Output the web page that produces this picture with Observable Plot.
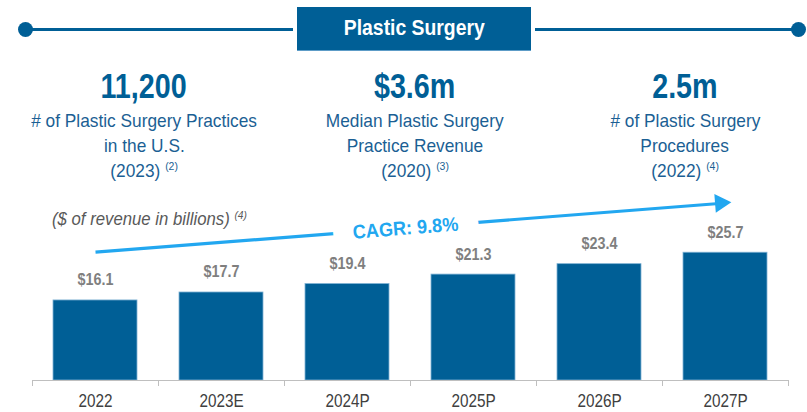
<!DOCTYPE html>
<html>
<head>
<meta charset="utf-8">
<script src="https://cdn.jsdelivr.net/npm/d3@7"></script>
<script src="https://cdn.jsdelivr.net/npm/@observablehq/plot@0.6"></script>
<style>
  html, body { margin: 0; padding: 0; background: #fff; }
  body { font-family: "Liberation Sans", Arial, sans-serif; }
  #wrap { position: relative; width: 807px; height: 412px; overflow: hidden; }
  #hline { position: absolute; left: 25px; width: 773px; top: 27.5px; height: 3px; background: #005f96; }
  .dot { position: absolute; top: 21.5px; width: 15px; height: 15px; border-radius: 50%; background: #005f96; }
  #title { position: absolute; left: 297px; top: 7px; width: 234px; height: 44px; background: #005f96; color: #fff;
           font-weight: bold; font-size: 21.5px; display: flex; align-items: center; justify-content: center;
           box-shadow: 0 0 0 4px #fff; border-bottom: 1px solid #5d9cc7; box-sizing: border-box; }
  .sq { display: inline-block; transform-origin: 50% 50%; white-space: nowrap; }
  .stat { position: absolute; top: 64px; width: 270px; text-align: center; color: #005f96; }
  .stat .big { font-weight: bold; font-size: 35px; line-height: 44px; height: 44px; }
  .stat .line { font-size: 19px; line-height: 25px; height: 25px; color: #1b5f94; }
  .stat sup { font-size: 11.5px; vertical-align: 0; position: relative; top: -7px; }
  #units { position: absolute; left: 52px; top: 209px; font-style: italic; font-size: 18px; line-height: 20px; color: #595959;
           transform: scaleX(0.93); transform-origin: 0 50%; white-space: nowrap; }
  #units sup { font-size: 11px; position: relative; top: -6px; vertical-align: 0; }
  #chart { position: absolute; left: 0; top: 190px; }
</style>
</head>
<body>
<div id="wrap">
  <div id="hline"></div>
  <div class="dot" style="left:18px"></div>
  <div class="dot" style="left:791px"></div>
  <div id="title"><span class="sq" style="transform:scaleX(0.9)"></span></div>
  <div id="stats"></div>
  <div id="chart"></div>
  <div id="units"></div>
</div>
<script>
// ---- data ----
const title = "Plastic Surgery";
const statValues = ["11,200", "$3.6m", "2.5m"];
const statLines = [
  ["# of Plastic Surgery Practices", "in the U.S."],
  ["Median Plastic Surgery", "Practice Revenue"],
  ["# of Plastic Surgery", "Procedures"]
];
const statYears = ["(2023)", "(2020)", "(2022)"];
const statNotes = ["(2)", "(3)", "(4)"];
const unitsLabel = "($ of revenue in billions)";
const unitsNote = "(4)";

const categories = ["2022", "2023E", "2024P", "2025P", "2026P", "2027P"];
const revenue = [16.1, 17.7, 19.4, 21.3, 23.4, 25.7];
const cagrLabel = "CAGR: 9.8%";
const cagrFrom = {cat: "2022", value: 25.8};
const cagrTo = {cat: "2027P", value: 35.7};
const cagrTextAt = {cat: "2024P", value: 30.6};

// ---- header ----
document.querySelector("#title .sq").textContent = title;
const statsEl = document.getElementById("stats");
const centers = [144, 415, 685];
statValues.forEach((v, i) => {
  const d = document.createElement("div");
  d.className = "stat";
  d.style.left = (centers[i] - 135) + "px";
  const sq = (html, f) => `<span class="sq" style="transform:scaleX(${f})">${html}</span>`;
  d.innerHTML = `<div class="big">${sq(v, 0.82)}</div>` +
    statLines[i].map(l => `<div class="line">${sq(l, 0.91)}</div>`).join("") +
    `<div class="line">${sq(`${statYears[i]} <sup>${statNotes[i]}</sup>`, 0.91)}</div>`;
  statsEl.appendChild(d);
});
document.getElementById("units").innerHTML = `${unitsLabel} <sup>${unitsNote}</sup>`;

// ---- chart ----
const data = categories.map((c, i) => ({cat: c, value: revenue[i], label: "$" + revenue[i].toFixed(1)}));
const blue = "#005f96";
const light = "#22a7f0";

const chart = Plot.plot({
  width: 807,
  height: 222,
  marginLeft: 32,
  marginRight: 19,
  marginBottom: 32,
  marginTop: 11,
  style: {fontFamily: `"Liberation Sans", Arial, sans-serif`, background: "transparent", overflow: "visible"},
  x: {domain: categories, paddingInner: 1/3, paddingOuter: 1/6, label: null},
  y: {domain: [0, 36], axis: null},
  marks: [
    Plot.barY(data, {x: "cat", y: "value", fill: blue, stroke: "#7fb2d4", strokeWidth: 0.8}),
    Plot.ruleY([0], {stroke: "#bfbfbf", strokeWidth: 1}),
    Plot.ruleX(categories, {x: d => d, y1: 0, y2: 0, insetBottom: -6, dx: -63, stroke: "#bfbfbf"}),
    Plot.ruleX(categories.slice(-1), {x: d => d, y1: 0, y2: 0, insetBottom: -6, dx: 63, stroke: "#bfbfbf"}),
    Plot.axisX({tickSize: 0, tickPadding: 14, fontSize: 18, fill: "#404040", label: null}),
    Plot.link([0], {x1: () => cagrFrom.cat, y1: () => cagrFrom.value, x2: () => cagrTo.cat, y2: () => cagrTo.value,
                    stroke: light, strokeWidth: 3.2}),
    Plot.dot([0], {x: () => cagrTo.cat, y: () => cagrTo.value, symbol: "triangle", r: 7, fill: light, rotate: 85.5, dx: -5}),
    Plot.text([cagrLabel], {x: () => cagrTextAt.cat, y: () => cagrTextAt.value, text: d => d, dx: 58, rotate: -4.5,
                    fill: light, fontWeight: "bold", fontSize: 19.5, stroke: "white", strokeWidth: 44}),
    Plot.text(data, {x: "cat", y: "value", text: "label", lineAnchor: "bottom", dy: -15, fill: "#7f7f7f",
                    fontWeight: "bold", fontSize: 16.5})
  ]
});

// narrow the SVG labels horizontally (Arial Narrow look)
chart.querySelectorAll("text").forEach(t => {
  const s = t.textContent;
  const f = s.startsWith("CAGR") ? 0.93 : s.startsWith("$") ? 0.87 : 0.85;
  const tr = t.getAttribute("transform") || "";
  t.setAttribute("transform", (tr + ` scale(${f},1)`).trim());
});
document.getElementById("chart").appendChild(chart);
</script>
</body>
</html>
